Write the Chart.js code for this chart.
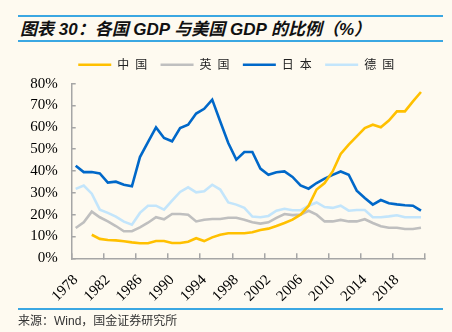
<!DOCTYPE html>
<html lang="zh">
<head>
<meta charset="UTF-8">
<title>各国 GDP 与美国 GDP 的比例</title>
<script src="https://cdn.jsdelivr.net/npm/chart.js"></script>
<style>
  body { margin: 0; background: #fefaf0; width: 452px; height: 332px; position: relative; overflow: hidden; }
  .rule { position: absolute; left: 18px; width: 425px; height: 2px; background: #3ba7e2; }
  .title { position: absolute; left: 20px; top: 15px; line-height: 20px; font: italic bold 17px "Liberation Sans", "Noto Sans CJK SC", sans-serif; color: #111; white-space: nowrap; }
  .source { position: absolute; left: 18px; top: 313px; line-height: 16px; font-size: 12px; font-family: "Liberation Sans", "Noto Sans CJK SC", sans-serif; color: #333; white-space: nowrap; }
  #chart { position: absolute; left: 0; top: 0; }
</style>
</head>
<body>
  <div class="rule" style="top:15px"></div>
  <div class="title">图表 30：各国 GDP 与美国 GDP 的比例（%）</div>
  <div class="rule" style="top:40px"></div>
  <canvas id="chart" width="452" height="332"></canvas>
  <div class="rule" style="top:308px"></div>
  <div class="source">来源：Wind，国金证券研究所</div>

<script>
  // 年份 1978-2021
  const years = ['1978','1979','1980','1981','1982','1983','1984','1985','1986','1987',
                 '1988','1989','1990','1991','1992','1993','1994','1995','1996','1997',
                 '1998','1999','2000','2001','2002','2003','2004','2005','2006','2007',
                 '2008','2009','2010','2011','2012','2013','2014','2015','2016','2017',
                 '2018','2019','2020','2021'];

  // 各国 GDP / 美国 GDP (%)
  const china = [null, null, 10.8, 8.9, 8.4, 8.2, 7.8, 7.3, 6.9, 6.9,
                 7.9, 7.9, 7.0, 7.0, 7.6, 9.2, 7.9, 9.6, 10.8, 11.5,
                 11.5, 11.5, 11.9, 13.0, 13.6, 14.8, 16.2, 17.7, 20.0, 24.0,
                 31.5, 34.5, 39.8, 47.8, 52.1, 55.9, 59.7, 61.2, 60.0, 63.1,
                 67.3, 67.3, 71.9, 76.2];
  const uk = [13.9, 16.5, 21.4, 18.8, 16.9, 14.8, 12.4, 12.4, 14.2, 16.3,
              18.8, 17.9, 20.3, 20.3, 20.0, 16.9, 17.7, 18.0, 18.0, 18.6,
              18.6, 17.7, 16.5, 15.9, 16.5, 18.5, 20.3, 19.8, 20.0, 21.8,
              20.0, 16.9, 16.9, 17.6, 16.9, 16.9, 17.9, 16.2, 14.7, 14.0,
              14.0, 13.4, 13.4, 14.0];
  const japan = [42.4, 39.5, 39.5, 38.9, 34.7, 35.1, 33.7, 33.0, 46.4, 53.2,
                 60.0, 55.1, 53.6, 59.7, 61.2, 66.3, 68.5, 72.7, 62.7, 52.8,
                 45.2, 48.7, 48.7, 41.1, 38.3, 39.4, 39.8, 37.3, 33.4, 31.9,
                 34.5, 36.5, 38.2, 39.8, 38.3, 31.0, 27.6, 24.6, 26.7, 25.2,
                 24.7, 24.3, 24.1, 21.8];
  const germany = [31.8, 33.3, 29.6, 22.3, 20.8, 19.1, 16.8, 15.4, 20.8, 24.1,
                   24.1, 22.3, 26.4, 30.4, 32.5, 30.2, 30.7, 33.7, 31.5, 25.6,
                   24.6, 23.1, 19.1, 18.8, 19.4, 21.8, 22.7, 22.0, 22.0, 24.1,
                   25.6, 23.5, 23.1, 24.1, 21.8, 22.1, 22.1, 18.8, 18.8, 19.2,
                   19.7, 18.8, 18.8, 18.8];

  const axisColor = '#a6a6a6';
  const tickFont = { family: "'Liberation Serif', 'Times New Roman', serif", size: 15 };

  function series(label, data, color) {
    return { label: label, data: data, borderColor: color, backgroundColor: color,
             borderWidth: 2.6, pointRadius: 0, tension: 0, spanGaps: false };
  }

  // 图例位置微调（往上、往右）
  const legendNudge = {
    id: 'legendNudge',
    afterLayout(chart) {
      const lg = chart.legend;
      lg.top -= 3; lg.bottom -= 3;
      lg.left += 23.2; lg.right += 23.2;
    }
  };

  new Chart(document.getElementById('chart'), {
    type: 'line',
    data: {
      labels: years,
      datasets: [
        series('中\u2002国', china, '#ffc000'),
        series('英\u2002国', uk, '#bfbfbf'),
        series('日\u2002本', japan, '#0068c9'),
        series('德\u2002国', germany, '#c3e5fb')
      ]
    },
    options: {
      responsive: false,
      animation: false,
      devicePixelRatio: 1,
      layout: { padding: { left: 0, right: 26, top: 48.4, bottom: 23.7 } },
      plugins: {
        tooltip: { enabled: false },
        legend: {
          position: 'top',
          labels: {
            usePointStyle: true,
            pointStyle: 'line',
            pointStyleWidth: 33,
            padding: 13.3,
            color: '#222',
            font: { family: "'Noto Sans CJK SC', sans-serif", size: 12 }
          }
        }
      },
      scales: {
        x: {
          offset: true,
          grid: {
            offset: true,
            drawOnChartArea: false,
            tickLength: -5,
            lineWidth: 1.5,
            color: ctx => (ctx.index === undefined || ctx.index % 4 === 0) ? axisColor : 'rgba(0,0,0,0)'
          },
          border: { color: axisColor, width: 1.5 },
          ticks: {
            autoSkip: false,
            minRotation: 45,
            maxRotation: 45,
            padding: 18,
            color: '#000',
            font: tickFont,
            callback: (v, i) => i % 4 === 0 ? years[i] : ''
          },
          afterFit: s => { s.height = 50; }
        },
        y: {
          min: 0,
          max: 80,
          grid: { drawOnChartArea: false, tickLength: -4, lineWidth: 1.5, color: axisColor },
          border: { color: axisColor, width: 1.5 },
          ticks: {
            stepSize: 10,
            padding: 18,
            color: '#000',
            font: tickFont,
            callback: v => v + '%'
          },
          afterFit: s => { s.width = 71.7; }
        }
      }
    },
    plugins: [legendNudge]
  });
</script>
</body>
</html>
